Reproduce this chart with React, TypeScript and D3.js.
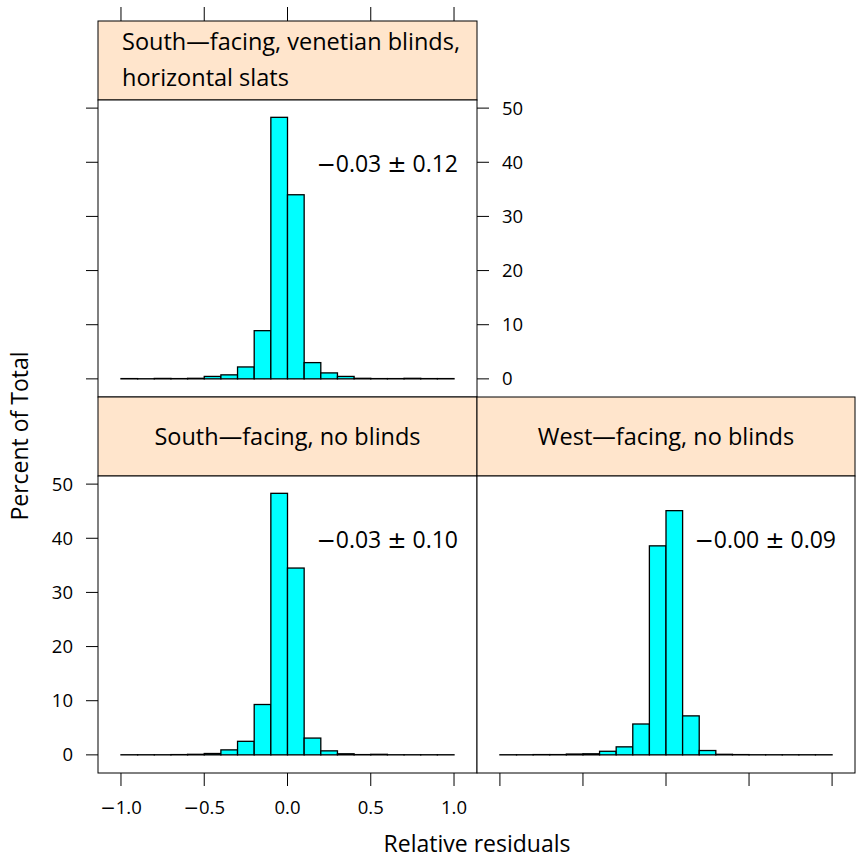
import React from "react";
import * as d3 from "d3";

// Histogram bin lower edges (bin width 0.1)
const binStarts = [-1.0, -0.9, -0.8, -0.7, -0.6, -0.5, -0.4, -0.3, -0.2, -0.1, 0.0, 0.1, 0.2, 0.3, 0.4, 0.5, 0.6, 0.7, 0.8, 0.9];
const binWidth = 0.1;

// Percent of total per bin, one series per window configuration
const southVenetian = [0.05, 0.02, 0.08, 0.05, 0.1, 0.45, 0.74, 2.2, 8.9, 48.3, 34.0, 3.0, 1.1, 0.45, 0.1, 0.05, 0.05, 0.1, 0.05, 0.05];
const southNoBlinds = [0.02, 0.02, 0.02, 0.05, 0.1, 0.25, 0.92, 2.5, 9.3, 48.3, 34.5, 3.1, 0.74, 0.2, 0.05, 0.1, 0.02, 0.02, 0.02, 0.02];
const westNoBlinds = [0.02, 0.02, 0.05, 0.05, 0.15, 0.2, 0.66, 1.48, 5.7, 38.6, 45.1, 7.2, 0.8, 0.1, 0.05, 0.02, 0.02, 0.02, 0.02, 0.02];

// Mean ± sd annotations: [mean, sd]
const statMeans = ["0.03", "0.03", "0.00"];
const statSds = ["0.12", "0.10", "0.09"];

const stripLabels = [
  ["South\u2014facing, venetian blinds,", "horizontal slats"],
  ["South\u2014facing, no blinds"],
  ["West\u2014facing, no blinds"],
];

const xTicks = [-1.0, -0.5, 0.0, 0.5, 1.0];
const xTickLabels = ["1.0", "0.5", "0.0", "0.5", "1.0"];
const xTickNegative = [true, true, false, false, false];
const yTicks = [0, 10, 20, 30, 40, 50];

const xDomain: [number, number] = [-1.138, 1.138];
const yDomain: [number, number] = [-3.35, 51.5];

const FONT = "'Open Sans', 'Noto Sans', sans-serif";
const SYM_FONT = "'DejaVu Sans', sans-serif";
const STRIP_FILL = "#ffe5cc";
const BAR_FILL = "#00ffff";

type Panel = {
  values: number[];
  mean: string;
  sd: string;
  strip: string[];
  x0: number;
  x1: number;
  stripTop: number;
  plotTop: number;
  plotBottom: number;
  leftTicks: boolean;
  leftLabels: boolean;
  rightTicks: boolean;
  rightLabels: boolean;
  topTicks: boolean;
  bottomTicks: boolean;
  bottomLabels: boolean;
  stripCentered: boolean;
};

const panels: Panel[] = [
  {
    values: southVenetian, mean: statMeans[0], sd: statSds[0], strip: stripLabels[0],
    x0: 98, x1: 477, stripTop: 21, plotTop: 100, plotBottom: 397,
    leftTicks: true, leftLabels: false, rightTicks: true, rightLabels: true,
    topTicks: true, bottomTicks: false, bottomLabels: false, stripCentered: false,
  },
  {
    values: southNoBlinds, mean: statMeans[1], sd: statSds[1], strip: stripLabels[1],
    x0: 98, x1: 477, stripTop: 397, plotTop: 476, plotBottom: 773,
    leftTicks: true, leftLabels: true, rightTicks: false, rightLabels: false,
    topTicks: false, bottomTicks: true, bottomLabels: true, stripCentered: true,
  },
  {
    values: westNoBlinds, mean: statMeans[2], sd: statSds[2], strip: stripLabels[2],
    x0: 477, x1: 855, stripTop: 397, plotTop: 476, plotBottom: 773,
    leftTicks: false, leftLabels: false, rightTicks: false, rightLabels: false,
    topTicks: false, bottomTicks: true, bottomLabels: false, stripCentered: true,
  },
];

function PanelView({ p }: { p: Panel }) {
  const x = d3.scaleLinear().domain(xDomain).range([p.x0, p.x1]);
  const y = d3.scaleLinear().domain(yDomain).range([p.plotBottom, p.plotTop]);
  const tickLen = 13;
  return (
    <g>
      {/* strip */}
      <rect x={p.x0} y={p.stripTop} width={p.x1 - p.x0} height={p.plotTop - p.stripTop}
        fill={STRIP_FILL} stroke="#000" strokeWidth={1} />
      {p.stripCentered ? (
        <text x={(p.x0 + p.x1) / 2} y={(p.stripTop + p.plotTop) / 2 + 8.5} textAnchor="middle"
          fontSize={23.5} fontFamily={FONT} fill="#000">{p.strip[0]}</text>
      ) : (
        p.strip.map((s, i) => (
          <text key={i} x={p.x0 + 24} y={p.stripTop + 29 + i * 35.5} fontSize={23.5}
            fontFamily={FONT} fill="#000">{s}</text>
        ))
      )}
      {/* plot box */}
      <rect x={p.x0} y={p.plotTop} width={p.x1 - p.x0} height={p.plotBottom - p.plotTop}
        fill="#fff" stroke="#000" strokeWidth={1} />
      {/* histogram bars */}
      {binStarts.map((b, i) => (
        <rect key={i} x={x(b)} y={y(p.values[i])} width={x(b + binWidth) - x(b)}
          height={y(0) - y(p.values[i])} fill={BAR_FILL} stroke="#000" strokeWidth={1.3} />
      ))}
      {/* mean ± sd annotation */}
      <text x={p.x1 - 19} y={y(40) + 9.5} textAnchor="end" fontSize={23}
        fontFamily={FONT} fill="#000">
        <tspan fontFamily={SYM_FONT}>{"\u2212"}</tspan>
        <tspan>{p.mean + " "}</tspan>
        <tspan fontFamily={SYM_FONT}>{"\u00b1"}</tspan>
        <tspan>{" " + p.sd}</tspan>
      </text>
      {/* ticks */}
      {p.topTicks && xTicks.map((t) => (
        <line key={"t" + t} x1={x(t)} x2={x(t)} y1={p.stripTop} y2={p.stripTop - tickLen - 1}
          stroke="#000" strokeWidth={1} />
      ))}
      {p.bottomTicks && xTicks.map((t, i) => (
        <g key={"b" + t}>
          <line x1={x(t)} x2={x(t)} y1={p.plotBottom} y2={p.plotBottom + tickLen}
            stroke="#000" strokeWidth={1} />
          {p.bottomLabels && (
            <text x={x(t)} y={p.plotBottom + 41} textAnchor="middle" fontSize={18.5}
              fontFamily={FONT} fill="#000">
              {xTickNegative[i] && <tspan fontFamily={SYM_FONT}>{"\u2212"}</tspan>}
              <tspan>{xTickLabels[i]}</tspan>
            </text>
          )}
        </g>
      ))}
      {p.leftTicks && yTicks.map((t) => (
        <g key={"l" + t}>
          <line x1={p.x0} x2={p.x0 - 12} y1={y(t)} y2={y(t)} stroke="#000" strokeWidth={1} />
          {p.leftLabels && (
            <text x={73} y={y(t) + 6.5} textAnchor="end" fontSize={18.5} fontFamily={FONT}
              fill="#000">{t}</text>
          )}
        </g>
      ))}
      {p.rightTicks && yTicks.map((t) => (
        <g key={"r" + t}>
          <line x1={p.x1} x2={p.x1 + 12} y1={y(t)} y2={y(t)} stroke="#000" strokeWidth={1} />
          {p.rightLabels && (
            <text x={p.x1 + 25} y={y(t) + 6.5} textAnchor="start" fontSize={18.5} fontFamily={FONT}
              fill="#000">{t}</text>
          )}
        </g>
      ))}
    </g>
  );
}

export default function App() {
  return (
    <svg width={856} height={861} style={{ position: "absolute", left: 0, top: 0, background: "#fff" }}>
      <rect x={0} y={0} width={856} height={861} fill="#fff" />
      {panels.map((p, i) => <PanelView key={i} p={p} />)}
      <text x={477} y={852} textAnchor="middle" fontSize={23} fontFamily={FONT} fill="#000">
        Relative residuals
      </text>
      <text transform="translate(28,436) rotate(-90)" textAnchor="middle" fontSize={23}
        fontFamily={FONT} fill="#000">Percent of Total</text>
    </svg>
  );
}
